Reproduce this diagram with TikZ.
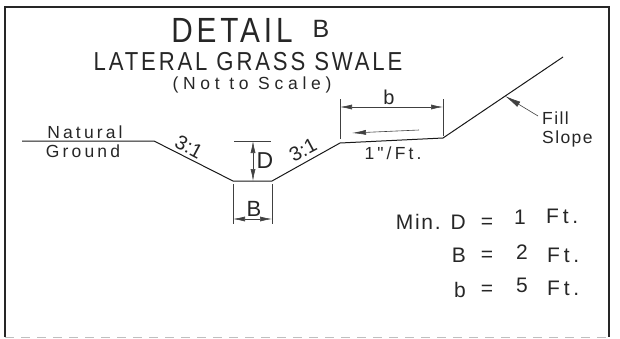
\documentclass[tikz,border=0pt]{standalone}
\usepackage{fontspec}
\usetikzlibrary{arrows.meta}
\newfontfamily\cadfont[LetterSpace=18]{Liberation Sans}
\newfontfamily\cadtight[LetterSpace=8]{Liberation Sans}
\newfontfamily\cadplain{Liberation Sans}
\newfontfamily\cadwide[LetterSpace=27]{Liberation Sans}
\newfontfamily\cadtitle[LetterSpace=11,FakeStretch=0.85]{Liberation Sans}
\newcommand{\cadsize}[1]{\fontsize{#1}{#1}\selectfont}
\tikzset{
  every node/.style={font=\cadfont\cadsize{17.5},inner sep=0pt,text=black!85},
  line/.style={draw=black!90,line width=1pt},
  thinline/.style={draw=black!75,line width=0.6pt},
  frameline/.style={draw=black!85,line width=1.3pt},
  dimarrow/.style={thinline,{Latex[length=12pt,width=5pt]}-{Latex[length=12pt,width=5pt]}},
  onearrow/.style={thinline,-{Latex[length=14pt,width=5pt]}},
  fillarrow/.style={thinline,-{Latex[length=16pt,width=6pt]}}
}
\begin{document}
\begin{tikzpicture}[x=1pt,y=-1pt]
      \useasboundingbox (0,0) rectangle (620,338);
      % frame
      \coordinate (fa) at (5,337);
      \coordinate (fb) at (5,7);
      \coordinate (fc) at (609,7);
      \coordinate (fd) at (609,337);
      \draw[frameline] (fa) -- (fb) -- (fc) -- (fd);
      \draw[black!25,line width=0.7pt,dash pattern=on 9pt off 7pt] (fa) -- (fd);

      % titles
      \node (detail) at (232,30) {\cadtitle\cadsize{35}DETAIL};
      \node (detailb) at (321,29) {\cadplain\cadsize{25}B};
      \node (lateral) at (248,62) {\cadtitle\cadsize{26}LATERAL GRASS SWALE};
      \node (noscale) at (252,85) {\cadwide\cadsize{17.5}(Not to Scale)};

      % ground profile
      \coordinate (g1) at (22,141);
      \coordinate (g2) at (154,141);
      \coordinate (g3) at (233,181);
      \coordinate (g4) at (272,181);
      \coordinate (g5) at (340,143);
      \coordinate (g6) at (443,138);
      \coordinate (g7) at (563,57);
      \draw[line] (g1) -- (g2) -- (g3) -- (g4) -- (g5) -- (g6) -- (g7);

      \node (natural) at (85,132) {Natural};
      \node (ground) at (83,151) {Ground};
      \node[rotate=-28] (slopea) at (189,147) {\cadplain\cadsize{20}3:1};
      \node[rotate=28] (slopeb) at (303,150) {\cadplain\cadsize{20}3:1};

      % D
      \coordinate (da) at (234,141);
      \coordinate (db) at (271,141);
      \coordinate (dc) at (253,141);
      \coordinate (dd) at (253,181);
      \draw[thinline] (da) -- (db);
      \draw[dimarrow] (dc) -- (dd);
      \node (dlabel) at (265,161) {\cadplain\cadsize{23}D};

      % B
      \coordinate (ba) at (233,184);
      \coordinate (bb) at (233,224);
      \coordinate (bc) at (272,184);
      \coordinate (bd) at (272,224);
      \coordinate (be) at (233,219);
      \coordinate (bf) at (272,219);
      \draw[thinline] (ba) -- (bb);
      \draw[thinline] (bc) -- (bd);
      \draw[dimarrow] (be) -- (bf);
      \node (blabel) at (254,209) {\cadplain\cadsize{22}B};

      % b
      \coordinate (ca) at (340,99);
      \coordinate (cb) at (340,139);
      \coordinate (cc) at (443,99);
      \coordinate (cd) at (443,136);
      \coordinate (ce) at (340,107);
      \coordinate (cf) at (443,107);
      \draw[thinline] (ca) -- (cb);
      \draw[thinline] (cc) -- (cd);
      \draw[dimarrow] (ce) -- (cf);
      \node (smallb) at (389,97) {\cadplain\cadsize{20}b};

      % flow
      \coordinate (fl1) at (419,130);
      \coordinate (fl2) at (352,133);
      \draw[onearrow] (fl1) -- (fl2);
      \node (grade) at (393,153) {1"/Ft.};

      % fill slope
      \coordinate (fs1) at (538,116);
      \coordinate (fs2) at (505,96);
      \draw[fillarrow] (fs1) -- (fs2);
      \node[anchor=west] (fill) at (542,118) {\cadtight\cadsize{17.5}Fill};
      \node[anchor=west] (slope) at (542,139) {\cadtight\cadsize{17.5}Slope};

      % table
      \node[anchor=east] (mind) at (466,222) {\cadtight\cadsize{21}Min. D};
      \node (eqa) at (487,223) {\cadplain\cadsize{21}=};
      \node (vala) at (520,217) {\cadplain\cadsize{21}1};
      \node[anchor=west] (fta) at (546,216) {\cadfont\cadsize{21}Ft.};
      \node[anchor=east] (minb) at (466,255) {\cadplain\cadsize{21}B};
      \node (eqb) at (487,256) {\cadplain\cadsize{21}=};
      \node (valb) at (522,252) {\cadplain\cadsize{21}2};
      \node[anchor=west] (ftb) at (547,255) {\cadfont\cadsize{21}Ft.};
      \node[anchor=east] (minc) at (466,290) {\cadplain\cadsize{21}b};
      \node (eqc) at (487,290) {\cadplain\cadsize{21}=};
      \node (valc) at (522,285) {\cadplain\cadsize{21}5};
      \node[anchor=west] (ftc) at (547,288) {\cadfont\cadsize{21}Ft.};
    \end{tikzpicture}
\end{document}
